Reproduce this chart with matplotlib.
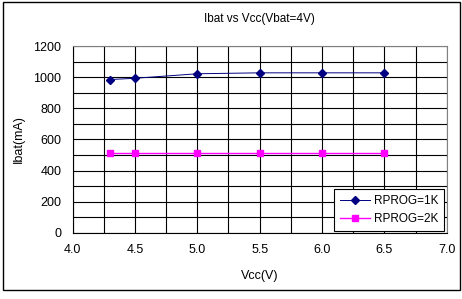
import matplotlib.pyplot as plt
from matplotlib.patches import Rectangle

plt.rcParams['font.family'] = ['Liberation Sans', 'DejaVu Sans']

vcc = [4.3, 4.5, 5.0, 5.5, 6.0, 6.5]
ibat_1k = [985, 993, 1022, 1028, 1028, 1028]
ibat_2k = [510, 510, 510, 510, 510, 510]

fig = plt.figure(figsize=(4.62, 2.99), dpi=100)
ax = fig.add_axes([0.157, 0.221, 0.81, 0.625])

ax.plot(vcc, ibat_1k, color="#000080", lw=0.7, marker="D", ms=4, label="RPROG=1K")
ax.plot(vcc, ibat_2k, color="#FF00FF", lw=1.0, marker="s", ms=5, label="RPROG=2K")

ax.set_xlim(4.0, 7.0)
ax.set_ylim(0, 1200)
ax.set_xticks([4.0, 4.5, 5.0, 5.5, 6.0, 6.5, 7.0])
ax.set_xticks([4.25 + 0.5 * i for i in range(6)], minor=True)
ax.set_yticks(range(0, 1201, 200))
ax.set_yticks(range(100, 1200, 200), minor=True)
ax.set_xticklabels(["4.0", "4.5", "5.0", "5.5", "6.0", "6.5", "7.0"])
ax.grid(True, which="both", color="black", lw=0.8)
ax.tick_params(which="both", length=0, labelsize=9, pad=8)
ax.spines["top"].set_color("gray")
ax.spines["right"].set_color("gray")

ax.set_title("Ibat vs Vcc(Vbat=4V)", fontsize=8.5, pad=17)
ax.set_xlabel("Vcc(V)", fontsize=9, labelpad=10)
ax.set_ylabel("Ibat(mA)", fontsize=9, labelpad=6)

leg = ax.legend(loc="lower right", fontsize=8.5, fancybox=False, edgecolor="black",
                framealpha=1, borderaxespad=0.2, handlelength=2.6, handletextpad=0.3,
                borderpad=0.5)
leg.get_frame().set_linewidth(0.8)

fig.patches.append(Rectangle((0.006, 0.03), 0.99, 0.962, transform=fig.transFigure,
                             fill=False, edgecolor="black", lw=1.0))

plt.savefig("out.png", dpi=100)
